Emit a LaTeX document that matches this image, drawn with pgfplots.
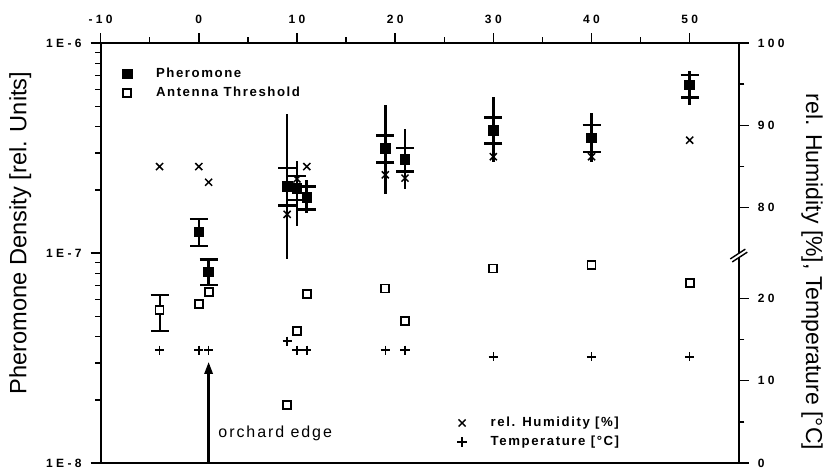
\documentclass[border=0pt]{standalone}
\usepackage{fontspec}
\setmainfont{Liberation Sans}
\newfontfamily\spfont{Liberation Sans}[LetterSpace=12]
\newfontfamily\tkfont{Liberation Sans}[LetterSpace=28]
\usepackage{pgfplots}
\pgfplotsset{compat=1.18}
\usepackage{pgfplotstable}
\usetikzlibrary{arrows.meta}

% pheromone: value, cap high/low, range high/low
\pgfplotstableread{
x   y       ch      cl      rh      rl
0   1.26e-7 1.45e-7 1.08e-7 1.45e-7 1.08e-7
1   8.15e-8 9.33e-8 7.05e-8 9.33e-8 7.05e-8
9   2.08e-7 2.54e-7 1.69e-7 4.59e-7 9.36e-8
10  2.03e-7 2.33e-7 1.79e-7 2.74e-7 1.35e-7
11  1.84e-7 2.08e-7 1.61e-7 2.24e-7 1.55e-7
19  3.16e-7 3.62e-7 2.70e-7 5.08e-7 1.92e-7
21  2.79e-7 3.17e-7 2.44e-7 3.88e-7 2.01e-7
30  3.85e-7 4.41e-7 3.33e-7 5.51e-7 2.72e-7
40  3.54e-7 4.07e-7 3.03e-7 4.66e-7 2.72e-7
50  6.31e-7 7.05e-7 5.51e-7 7.38e-7 5.07e-7
}\pher

\pgfplotstableread{
x   y
-4  5.35e-8
0   5.71e-8
1   6.55e-8
9   1.89e-8
10  4.27e-8
11  6.38e-8
19  6.79e-8
21  4.75e-8
30  8.45e-8
40  8.77e-8
50  7.18e-8
}\ant

% humidity (%) and temperature (C)
\pgfplotstableread{
x   h     t
-4  85.0  13.7
0   85.0  13.7
1   83.1  13.7
9   79.2  14.8
10  83.5  13.7
11  85.0  13.7
19  84.0  13.7
21  83.6  13.7
30  86.2  12.9
40  86.2  12.9
50  88.2  12.9
}\env

\begin{document}
\begin{tikzpicture}
\pgfplotsset{
  every axis/.append style={
    scale only axis, width=319pt, height=210pt,
    xmin=-10, xmax=55, clip=false,
    tick align=outside,
    major tick length=5pt, minor tick length=2.8pt,
    every tick/.style={black, line width=0.7pt},
    axis line style={line width=0.9pt},
    /pgf/number format/assume math mode=true,
    tick label style={font=\tkfont\bfseries\fontsize{6}{7}\selectfont},
    legend cell align=left,
    legend image code/.code={\draw[#1] plot coordinates {(2.5pt,0pt)};},
    legend style={draw=none, fill=none, inner sep=0pt, row sep=3pt,
      font=\spfont\bfseries\fontsize{6.6}{7}\selectfont,
      nodes={inner sep=0pt, text height=5pt, text depth=1.5pt},
      /tikz/every odd column/.style={column sep=12pt}},
  },
}
\begin{axis}[
  ymode=log, ymin=1e-8, ymax=1e-6,
  xtick={-10,0,...,50}, minor xtick={-5,5,...,45},
  xtick pos=right, xticklabel pos=right, ytick pos=left,
  ytick={1e-8,1e-7,1e-6}, yticklabels={1E-8,1E-7,1E-6},
  minor ytick={2e-8,3e-8,4e-8,5e-8,6e-8,7e-8,8e-8,9e-8,2e-7,3e-7,4e-7,5e-7,6e-7,7e-7,8e-7,9e-7},
  yticklabel style={xshift=-1pt},
  xticklabel style={yshift=1pt},
  ylabel={Pheromone Density [rel. Units]},
  ylabel style={font=\fontsize{11.8}{13}\selectfont, at={(axis description cs:-0.126,0.548)}, anchor=center},
  legend style={at={(axis description cs:0.0335,0.943)}, anchor=north west},
]
\addplot[only marks, mark=none, forget plot,
  error bars/.cd, y dir=both, y explicit, error mark=none,
  error bar style={line width=1.3pt, black}]
  table[x=x, y=y, y error plus expr=\thisrow{rh}-\thisrow{y}, y error minus expr=\thisrow{y}-\thisrow{rl}] {\pher};
\addplot[only marks, mark=square*, mark size=2.4pt, black,
  error bars/.cd, y dir=both, y explicit,
  error bar style={line width=1.3pt, black},
  error mark options={rotate=90, mark size=4.5pt, line width=1.3pt, black}]
  table[x=x, y=y, y error plus expr=\thisrow{ch}-\thisrow{y}, y error minus expr=\thisrow{y}-\thisrow{cl}] {\pher};
\addlegendentry{Pheromone}
\addplot[only marks, mark=none, forget plot,
  error bars/.cd, y dir=both, y explicit,
  error bar style={line width=1pt, black},
  error mark options={rotate=90, mark size=4.5pt, line width=1pt, black}]
  coordinates {(-4,5.35e-8) += (0,1.0e-8) -= (0,1.08e-8)};
\addplot[only marks, mark=square*, mark size=2pt, black, mark options={fill=white, line width=0.9pt}]
  table[x=x, y=y] {\ant};
\addlegendentry{Antenna Threshold}
\end{axis}

\begin{axis}[
  ymin=0, ymax=51,
  axis x line=none, axis y line*=right,
  ytick={0,10,20,31,41,51}, yticklabels={0,10,20,80,90,100},
  minor ytick={5,15,36,46},
  yticklabel style={xshift=1pt},
  ylabel={rel. Humidity [\%], Temperature [°C]},
  ylabel style={font=\fontsize{11.5}{13}\selectfont, rotate=180, at={(axis description cs:1.115,0.455)}, anchor=center},
  legend style={at={(axis description cs:0.5586,0.112)}, anchor=north west},
]
\addplot[only marks, mark=x, mark size=2.5pt, black, mark options={line width=0.75pt}]
  table[x=x, y expr=\thisrow{h}-49] {\env};
\addlegendentry{rel. Humidity [\%]}
\addplot[only marks, mark=+, mark size=2.3pt, black, mark options={line width=0.8pt}]
  table[x=x, y=t] {\env};
\addlegendentry{Temperature [°C]}
% orchard edge marker
\draw[line width=1.3pt, -{Triangle[length=6pt, width=4pt]}] (axis cs:1,0) -- (axis cs:1,12.3);
\node[anchor=west, inner sep=0pt, font=\spfont\fontsize{8}{9}\selectfont] at (axis cs:1.96,3.64) {orchard edge};
% axis break
\begin{scope}[shift={(axis cs:55,25.2)}, rotate=33]
  \fill[white] (-4.5pt,-0.9pt) rectangle (4.5pt,0.9pt);
  \draw[line width=0.7pt] (-4.5pt,-0.9pt) -- (4.5pt,-0.9pt) (-4.5pt,0.9pt) -- (4.5pt,0.9pt);
\end{scope}
\coordinate (sw) at (rel axis cs:0,0);
\coordinate (ne) at (rel axis cs:1,1);
\end{axis}
\pgfresetboundingbox
\path[use as bounding box] ([shift={(-50.3pt,-4pt)}]sw) rectangle ([shift={(43.1pt,21.5pt)}]ne);
\end{tikzpicture}
\end{document}
